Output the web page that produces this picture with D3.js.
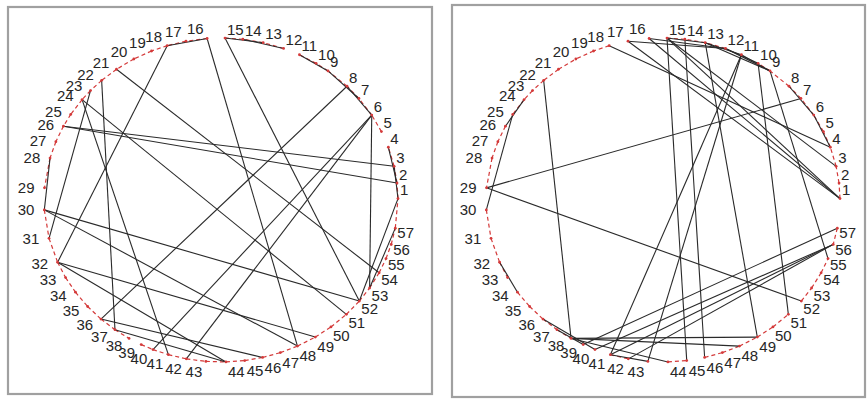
<!DOCTYPE html>
<html>
<head>
<meta charset="utf-8">
<script src="https://cdn.jsdelivr.net/npm/d3@7"></script>
<style>
  html, body { margin: 0; padding: 0; background: #fff; }
  svg { display: block; }
  .lbl { font-family: "Liberation Sans", Arial, sans-serif; font-size: 15px; fill: #262626; }
</style>
</head>
<body>
<svg id="chart" width="867" height="399"></svg>
<script>
// Bus numbers and their angular position on the ring (degrees, counter-clockwise from 3 o'clock)
const busIds = d3.range(1, 58);
const busAngles = [
  0.5, 6, 12, 19, 25, 31.6, 38.8, 44.6, 52.8, 57.5,
  63.7, 69.3, 76.2, 82.9, 88.7, 94.5, 101.4, 107.7, 113.1, 119.5,
  126.2, 132.4, 137.5, 141.7, 148.1, 152.9, 158.9, 165, 175.7, 183.5,
  193.7, 202.6, 208.6, 214.7, 221.1, 227.3, 233.2, 238.7, 243.2, 247.4,
  252.7, 258.7, 265.1, 271.6, 277.7, 283.6, 289.6, 295.6, 302.2, 308.4,
  315.1, 321.4, 327.1, 333.3, 338.8, 344.1, 350
];

// Left network: branches between buses
const leftBranches = [
  [1,2],[2,3],[3,4],[5,6],[6,7],[7,8],[8,9],[9,10],[10,11],[12,13],[13,14],[14,15],
  [16,17],[17,18],[18,19],[19,20],[20,21],[21,22],[22,23],[23,24],[24,25],[25,26],
  [26,27],[27,28],[28,29],[30,31],[31,32],[32,33],[33,34],[34,35],[35,36],[36,37],
  [37,38],[39,40],[40,41],[41,42],[42,43],[43,44],[44,45],[45,46],[46,47],[47,48],
  [48,49],[49,50],[50,51],[51,52],[52,53],[53,54],[54,55],[55,56],[56,57],[57,1],
  [6,8],[7,9],[9,11],[12,14],[13,15],[16,18],[1,3],[2,4],[28,30],
  [16,48],[15,52],[18,32],[22,37],[26,2],[26,3],[21,54],[24,51],[24,41],[23,31],
  [30,48],[30,52],[32,44],[32,49],[36,46],[37,44],[6,53],[6,40],[6,42],[8,36],
  [1,52],[57,53]
];

// Right network: IEEE 57-bus branch list
const rightBranches = [
  [1,2],[2,3],[3,4],[4,5],[4,6],[6,7],[6,8],[8,9],[9,10],[9,11],[9,12],[9,13],
  [13,14],[13,15],[1,15],[1,16],[1,17],[3,15],[4,18],[5,6],[7,8],[10,12],[11,13],
  [12,13],[12,16],[12,17],[14,15],[18,19],[19,20],[21,20],[21,22],[22,23],[23,24],
  [24,25],[24,26],[26,27],[27,28],[28,29],[7,29],[25,30],[30,31],[31,32],[32,33],
  [34,32],[34,35],[35,36],[36,37],[37,38],[37,39],[36,40],[22,38],[11,41],[41,42],
  [41,43],[38,44],[15,45],[14,46],[46,47],[47,48],[48,49],[49,50],[50,51],[10,51],
  [13,49],[29,52],[52,53],[53,54],[54,55],[11,43],[44,45],[40,56],[56,41],[56,42],
  [39,57],[57,56],[38,49],[38,48],[9,55]
];

// Panel layout: frame box and ring geometry
const panels = [
  { frame: { x: 8, y: 7, w: 424, h: 387 }, cx: 221, cy: 200, rx: 177, ry: 162, branches: leftBranches },
  { frame: { x: 452, y: 5, w: 413, h: 392 }, cx: 663, cy: 200, rx: 177, ry: 162, branches: rightBranches }
];

const svg = d3.select("#chart");
const rad = d => d * Math.PI / 180;
const isRing = ([a, b]) => Math.abs(a - b) === 1 || Math.abs(a - b) === 56;

// Label offset from its bus: labels sit outside the ring, left-side ones end before the bus
function labelOffset(c, s) {
  if (c >= 0) {
    return { dx: 2, dy: s >= 0 ? -9 : 10 * Math.sqrt(-s), anchor: "start" };
  }
  return { dx: -(3 + 7 * Math.abs(c)), dy: -10 * s * Math.abs(s), anchor: "end" };
}

panels.forEach(p => {
  const g = svg.append("g");

  g.append("rect")
    .attr("x", p.frame.x).attr("y", p.frame.y)
    .attr("width", p.frame.w).attr("height", p.frame.h)
    .attr("fill", "#fff").attr("stroke", "#a0a0a0").attr("stroke-width", 2.2);

  const x = d3.scaleLinear().domain([-1, 1]).range([p.cx - p.rx, p.cx + p.rx]);
  const y = d3.scaleLinear().domain([-1, 1]).range([p.cy + p.ry, p.cy - p.ry]);

  const pos = new Map(busIds.map((id, i) => {
    const a = rad(busAngles[i]);
    const c = Math.cos(a), s = Math.sin(a);
    return [id, { x: x(c), y: y(s), off: labelOffset(c, s) }];
  }));

  const ring = p.branches.filter(isRing);
  const chords = p.branches.filter(e => !isRing(e));

  g.append("g").selectAll("line").data(ring).join("line")
    .attr("x1", d => pos.get(d[0]).x).attr("y1", d => pos.get(d[0]).y)
    .attr("x2", d => pos.get(d[1]).x).attr("y2", d => pos.get(d[1]).y)
    .attr("stroke", "#d43a3a").attr("stroke-width", 1.2)
    .attr("stroke-dasharray", "4,3");

  g.append("g").selectAll("line").data(chords).join("line")
    .attr("x1", d => pos.get(d[0]).x).attr("y1", d => pos.get(d[0]).y)
    .attr("x2", d => pos.get(d[1]).x).attr("y2", d => pos.get(d[1]).y)
    .attr("stroke", "#2a2a2a").attr("stroke-width", 1.1);

  g.append("g").selectAll("circle").data(busIds).join("circle")
    .attr("cx", d => pos.get(d).x).attr("cy", d => pos.get(d).y)
    .attr("r", 1.4).attr("fill", "#d43a3a");

  g.append("g").selectAll("text").data(busIds).join("text")
    .attr("class", "lbl")
    .attr("x", d => pos.get(d).x + pos.get(d).off.dx)
    .attr("y", d => pos.get(d).y + pos.get(d).off.dy)
    .attr("text-anchor", d => pos.get(d).off.anchor)
    .attr("dominant-baseline", "central")
    .text(d => d);
});
</script>
</body>
</html>
